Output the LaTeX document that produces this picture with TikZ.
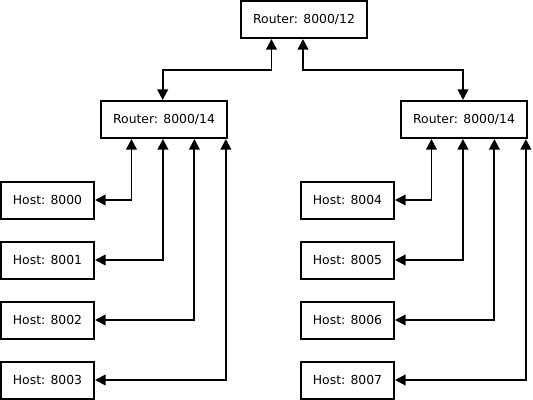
\documentclass[tikz,border=0pt]{standalone}
\usepackage{fontspec}
\setmainfont{DejaVu Sans}
\usetikzlibrary{arrows.meta}
\tikzset{
	box/.style={draw, line width=1.5pt, inner sep=0pt, minimum height=27.75pt, font=\fontsize{9.3}{11}\selectfont},
	router/.style={box, minimum width=94.5pt},
	host/.style={box, minimum width=69.75pt},
	link/.style={line width=1.4pt, {Triangle[length=8pt,width=8pt]}-{Triangle[length=8pt,width=8pt]}}
}

\begin{document}
\begin{tikzpicture}[x=0.75pt, y=-0.75pt]
	\useasboundingbox (0,0) rectangle (533,400);
	\node[router] (r0) at (304,19.5) {Router: 8000/12};
	\node[router] (r1) at (164,119.5) {Router: 8000/14};
	\node[router] (r2) at (464,119.5) {Router: 8000/14};
	\foreach \i in {0,1,2,3} {
		\pgfmathtruncatemacro{\j}{\i+4}
		\node[host] (h\i) at (47.5,200+60*\i) {Host: 800\i};
		\node[host] (h\j) at (347.5,200+60*\i) {Host: 800\j};
		\draw[link] (h\i.east) -| ([xshift={23.6pt*(\i+1)}]r1.south west);
		\draw[link] (h\j.east) -| ([xshift={23.6pt*(\i+1)}]r2.south west);
	}
	\draw[link] ([xshift=23.6pt]r0.south west) -- ++(0,31) -| ([xshift=-1pt]r1.north);
	\draw[link] ([xshift=-0.75pt]r0.south) -- ++(0,31) -| ([xshift=-0.75pt]r2.north);
\end{tikzpicture}
\end{document}
